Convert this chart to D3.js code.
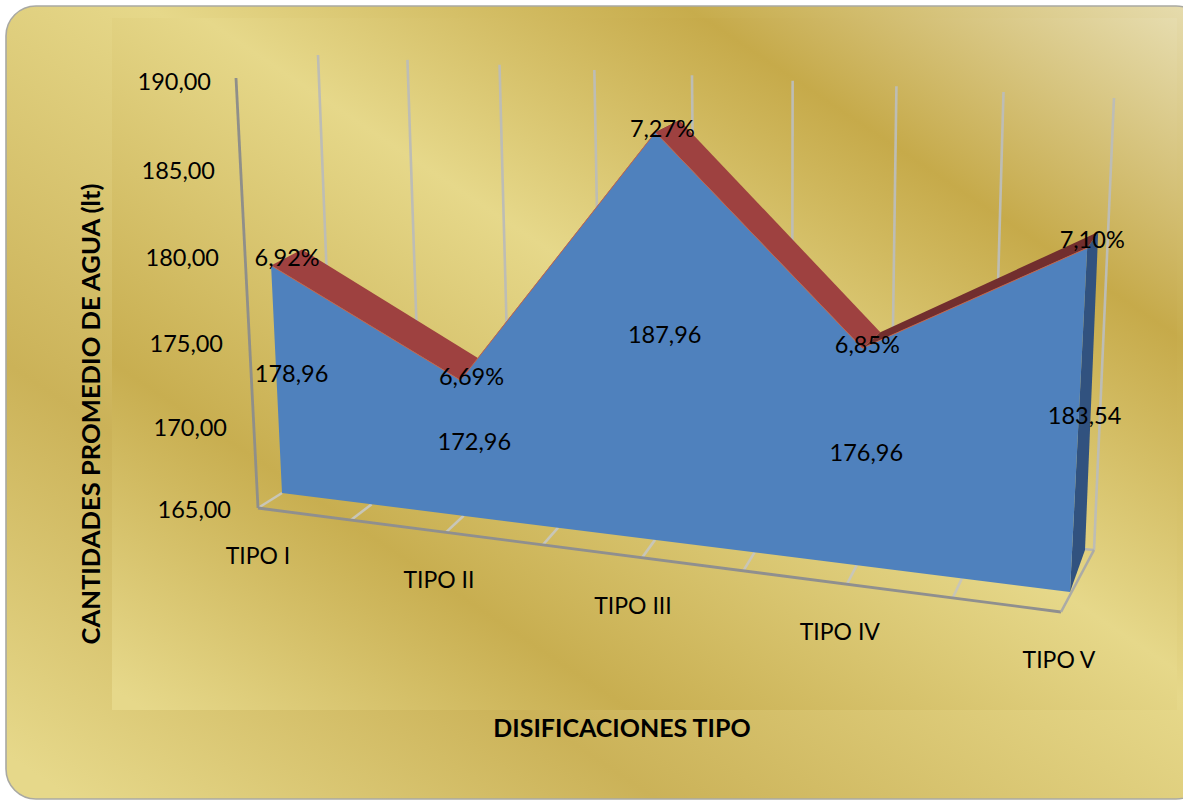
<!DOCTYPE html>
<html>
<head>
<meta charset="utf-8">
<script src="https://cdn.jsdelivr.net/npm/d3@7"></script>
<style>
html,body{margin:0;padding:0;background:#fff;overflow:hidden}
svg{display:block}
text{font-family:Lato,"Open Sans",sans-serif;fill:#000}
</style>
</head>
<body>
<svg id="c" width="1183" height="800"></svg>
<script>
// ---- data ----
const categories = ["TIPO I","TIPO II","TIPO III","TIPO IV","TIPO V"];
const values = [178.96,172.96,187.96,176.96,183.54];
const percents = [6.92,6.69,7.27,6.85,7.10];
const yTicks = [165,170,175,180,185,190];
const yTitle = "CANTIDADES PROMEDIO DE AGUA (lt)";
const xTitle = "DISIFICACIONES TIPO";
// ---- label nudges (layout, px) ----
const catNudge = [0,-7,-9,-7,-2];
const valNudgeY = [-6,-7,-2,-5,-5];
const pctNudgeX = [16,11,7,5,5];
const pctNudgeY = [-8,-4,-4,-4,-9];

const svg = d3.select("#c");
const loc = d3.formatLocale({decimal:",",thousands:".",grouping:[3],currency:["",""]});
const f2 = loc.format(".2f");
const yMin = 165, yMax = 190;

// perspective scale: maps u in [0,1] through start, midpoint, end
function persp(p0,pm,p1){
  const C = (2*pm - p0 - p1)/(p1 - pm);
  const A = p1*(C+1) - p0;
  return u => (A*u + p0)/(C*u + 1);
}

// geometry scales
const blueX = persp(282,655,1070);
const blueY = d3.scaleLinear().domain([282,1070]).range([493,592]);
const unit = d3.scaleLinear().domain([0,.5,1]).range([16.3,17.75,18.55]);
const lean = d3.scaleLinear().domain([0,1]).range([-0.048,0.05]);
const depthX = d3.scaleLinear().domain([0,.5,.75,1]).range([31,24,18,11]);
const depthXLow = d3.scaleLinear().domain([165,172.96]).range([4,0]).clamp(true);
const depthY = d3.scaleLinear().domain([165,172.96,184,190]).range([-42,-16,-16,-10]);
const catT = d3.scaleLinear().domain([0,categories.length-1]).range([0,1]);

function front(t,v){
  const xb = blueX(t), yb = blueY(xb), h = (v-yMin)*unit(t);
  return [xb+lean(t)*h, yb-h];
}
function back(t,v){
  const p = front(t,v);
  return [p[0]+depthX(t)+depthXLow(v), p[1]+depthY(v)];
}

// axis frame scales
const frontX = persp(258,642,1061);
const frontY = d3.scaleLinear().domain([258,1061]).range([508,612]);
const gridTopX = persp(318,692,1114);
const gridTopY = d3.scaleLinear().domain([318,1114]).range([55,98]);
const gridBotX = persp(335,696,1094);
const gridBotY = d3.scaleLinear().domain([335,1094]).range([480,550]);
const axisLabelY = persp(509,300,81);
const axisU = d3.scaleLinear().domain([yMin,yMax]).range([0,1]);
const axisLabelX = d3.scaleLinear().domain([yMin,yMax]).range([231,211]);

// ---- backgrounds ----
const defs = svg.append("defs");
function grad(id,x2,y2,stops){
  const g = defs.append("linearGradient").attr("id",id).attr("gradientUnits","userSpaceOnUse")
    .attr("x1",594).attr("y1",-442).attr("x2",x2).attr("y2",y2);
  stops.forEach(s=>g.append("stop").attr("offset",s[0]).attr("stop-color",s[1]));
}
grad("gOuter",-186,722,[[0,"#EAE2BC"],[.029,"#E6DCAE"],[.23,"#C7AC4C"],[.443,"#E6D88A"],[.711,"#CBB258"],[.943,"#E6D88A"],[1,"#E6D88A"]]);
grad("gInner",-130,639,[[0,"#EAE2BC"],[.044,"#E6DCAE"],[.247,"#C6AA4A"],[.461,"#E6D88A"],[.72,"#C8AE50"],[.928,"#E6D88A"],[1,"#E6D88A"]]);

svg.append("rect").attr("x",6).attr("y",6).attr("width",1200).attr("height",793).attr("rx",30).attr("ry",30)
  .attr("fill","url(#gOuter)").attr("stroke","#a9a9a3").attr("stroke-width",1.6);
svg.append("rect").attr("x",112).attr("y",18).attr("width",1065).attr("height",692).attr("fill","url(#gInner)");

// ---- gridlines on back wall ----
const gridK = d3.range(0,9);
svg.append("g").selectAll("line").data(gridK).join("line")
  .attr("x1",k=>gridTopX(k/8)).attr("y1",k=>gridTopY(gridTopX(k/8)))
  .attr("x2",k=>gridBotX(k/8)).attr("y2",k=>gridBotY(gridBotX(k/8)))
  .attr("stroke","#BDBDB5").attr("stroke-width",2.6);
// back floor edge
svg.append("line").attr("x1",gridBotX(0)).attr("y1",gridBotY(gridBotX(0))).attr("x2",gridBotX(1)).attr("y2",gridBotY(gridBotX(1)))
  .attr("stroke","#B5B5AE").attr("stroke-width",2.4);

// ---- floor ticks ----
svg.append("g").selectAll("line").data(d3.range(0,8)).join("line")
  .attr("x1",k=>frontX(k/8)).attr("y1",k=>frontY(frontX(k/8)))
  .attr("x2",k=>blueX(k/8)).attr("y2",k=>blueY(blueX(k/8)))
  .attr("stroke","#C8C6B8").attr("stroke-width",2.6);

// ---- axis frame ----
svg.append("line").attr("x1",236).attr("y1",78).attr("x2",frontX(0)).attr("y2",frontY(frontX(0)))
  .attr("stroke","#8F8F8A").attr("stroke-width",2.8);
svg.append("line").attr("x1",frontX(0)).attr("y1",frontY(frontX(0))).attr("x2",frontX(1)).attr("y2",frontY(frontX(1)))
  .attr("stroke","#8F8F8F").attr("stroke-width",2.8);
svg.append("line").attr("x1",frontX(1)).attr("y1",frontY(frontX(1))).attr("x2",gridBotX(1)).attr("y2",gridBotY(gridBotX(1)))
  .attr("stroke","#ABABA6").attr("stroke-width",2.6);

// ---- 3D area ----
const last = values.length-1;
const line = d3.line();
// right end side face
svg.append("path")
  .attr("d",line([front(1,values[last]),back(1,values[last]),back(1,yMin),front(1,yMin)])+"Z")
  .attr("fill","#31527F");
// top ribbon
const segs = d3.pairs(values.map((v,i)=>({t:catT(i),v})));
svg.append("g").selectAll("path").data(segs).join("path")
  .attr("d",([a,b])=>line([front(a.t,a.v),front(b.t,b.v),back(b.t,b.v),back(a.t,a.v)])+"Z")
  .attr("fill",([a,b])=>b.v>a.v?"#722E2E":"#9E4140");
// front face
const topPts = values.map((v,i)=>front(catT(i),v));
svg.append("path")
  .attr("d",line([...topPts,front(1,yMin),front(0,yMin)])+"Z")
  .attr("fill","#4F81BD");
svg.append("path").attr("d",line(topPts)).attr("fill","none").attr("stroke","#C0664F").attr("stroke-width",1);

// ---- labels ----
const fs = 23.5;
svg.append("g").selectAll("text").data(yTicks).join("text")
  .attr("x",d=>axisLabelX(d)).attr("y",d=>axisLabelY(axisU(d))).attr("text-anchor","end")
  .attr("dominant-baseline","central").attr("font-size",fs).text(d=>f2(d));

svg.append("g").selectAll("text").data(categories).join("text")
  .attr("x",(d,i)=>frontX(catT(i))+catNudge[i]).attr("y",(d,i)=>frontY(frontX(catT(i)))+47)
  .attr("text-anchor","middle").attr("dominant-baseline","central").attr("font-size",23).text(d=>d);

const valDx = d3.scaleLinear().domain([0,.75,1]).range([15,6.75,6]);
svg.append("g").selectAll("text").data(values).join("text")
  .attr("x",(d,i)=>{const t=catT(i);return (front(t,d)[0]+front(t,yMin)[0])/2+valDx(t);})
  .attr("y",(d,i)=>{const t=catT(i);return (front(t,d)[1]+front(t,yMin)[1])/2+valNudgeY[i];})
  .attr("text-anchor","middle").attr("dominant-baseline","central").attr("font-size",fs).text(d=>f2(d));

svg.append("g").selectAll("text").data(percents).join("text")
  .attr("x",(d,i)=>front(catT(i),values[i])[0]+pctNudgeX[i])
  .attr("y",(d,i)=>front(catT(i),values[i])[1]+pctNudgeY[i])
  .attr("text-anchor","middle").attr("dominant-baseline","central").attr("font-size",fs).text(d=>f2(d)+"%");

svg.append("text").attr("x",622).attr("y",727).attr("text-anchor","middle").attr("dominant-baseline","central")
  .attr("font-size",25).attr("font-weight",700).text(xTitle);
svg.append("text").attr("transform","translate(90,414) rotate(-90)").attr("text-anchor","middle").attr("dominant-baseline","central")
  .attr("font-size",25.6).attr("font-weight",700).text(yTitle);
</script>
</body>
</html>
